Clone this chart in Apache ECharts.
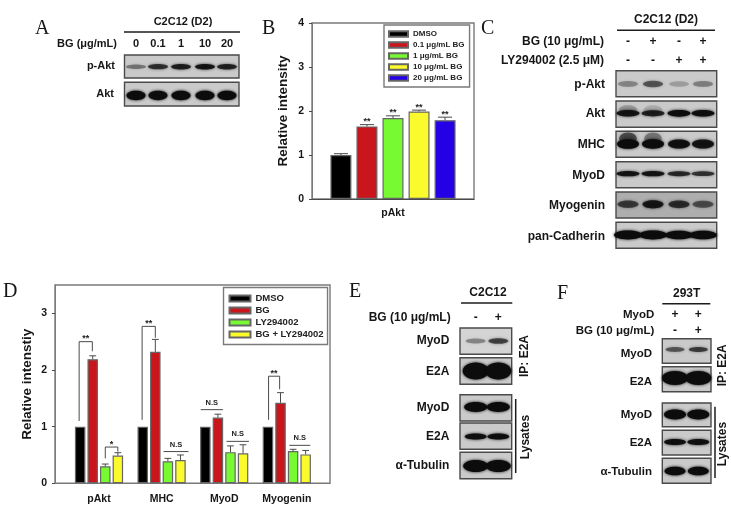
<!DOCTYPE html>
<html><head><meta charset="utf-8">
<style>html,body{margin:0;padding:0;background:#fff}#c{width:731px;height:505px}</style>
<script src="https://cdn.jsdelivr.net/npm/echarts@6/dist/echarts.min.js"></script>
</head><body><div id="c"></div>
<script>
// ---------- Chart B data ----------
const bCategories = ['pAkt'];
const bNames = ['DMSO','0.1 μg/mL BG','1 μg/mL BG','10 μg/mL BG','20 μg/mL BG'];
const bValues = [1.0,1.65,1.84,1.99,1.79];
const bErrors = [0.03,0.04,0.05,0.03,0.07];
const bStars = ['','**','**','**','**'];
const bColors = ['#000000','#c8161c','#78fa32','#fafa2d','#2300e6'];
// ---------- Chart D data ----------
const dCategories = ['pAkt','MHC','MyoD','Myogenin'];
const dNames = ['DMSO','BG','LY294002','BG + LY294002'];
const dDMSO = [1,1,1,1];
const dBG = [2.19,2.32,1.16,1.42];
const dLY = [0.30,0.39,0.55,0.57];
const dBoth = [0.49,0.41,0.53,0.51];
const dDMSOErr = [0,0,0,0];
const dBGErr = [0.06,0.22,0.06,0.18];
const dLYErr = [0.04,0.05,0.11,0.03];
const dBothErr = [0.05,0.09,0.15,0.07];
const dColors = ['#000000','#c8161c','#78fa32','#fafa2d'];
const dTicks = [0,1,2,3];
// significance: category, slot from, slot to, left foot, top, right foot, label
const dBrackets = [
  [0,-0.08,0.97,1.1,2.5,2.33,'**'],
  [0,2.0,3.0,0.44,0.64,0.56,'*'],
  [1,-0.05,1.0,1.12,2.77,2.57,'**'],
  [3,0.05,0.93,1.12,1.89,1.66,'**']
];
const dLines = [
  [1,1.65,3.64,0.56,'N.S'],
  [2,-0.37,1.4,1.3,'N.S'],
  [2,1.68,3.47,0.74,'N.S'],
  [3,1.7,3.37,0.67,'N.S']
];
// ---------- Blot band darkness (0..1) ----------
const aPAkt=[0.38,0.68,0.78,0.85,0.75], aAkt=[0.95,0.92,0.95,0.95,0.95];
const cPAkt=[0.3,0.5,0.2,0.32], cAkt=[0.85,0.78,0.95,0.92], cMHC=[1,0.95,0.88,0.85],
      cMyoD=[0.85,0.85,0.72,0.66], cMyog=[0.6,0.82,0.68,0.5], cCad=[1,1,0.97,0.97];
const ePMyoD=[0.32,0.6], ePE2A=[1,1], eLMyoD=[0.98,0.98], eLE2A=[0.92,0.9], eTub=[1,1];
const fPMyoD=[0.5,0.62], fPE2A=[1,1], fLMyoD=[0.98,0.95], fLE2A=[0.9,0.88], fTub=[0.98,0.98];

const SANS='"Liberation Sans",Arial,sans-serif', SERIF='"Liberation Serif",serif';
const g=[];
function txt(s,x,y,o){o=o||{};g.push({type:'text',x:x,y:y,rotation:o.rot||0,z:10,silent:true,style:{text:s,x:0,y:0,
  font:(o.serif?'normal ':'bold ')+(o.size||12)+'px '+(o.serif?SERIF:SANS),
  fill:o.fill||'#161616',align:o.align||'right',verticalAlign:o.va||'middle'}});}
function rule(x1,y1,x2,y2,w){g.push({type:'line',z:10,silent:true,shape:{x1,y1,x2,y2},style:{stroke:'#1c1c1c',lineWidth:w||1.5}});}
function blot(x0,y0,x1,y1,xs,levels,by,rx,ry,opt){opt=opt||{};
  g.push({type:'rect',z:5,silent:true,shape:{x:x0,y:y0,width:x1-x0,height:y1-y0},style:{fill:opt.bg||'#cacaca',stroke:'#4a4a4a',lineWidth:1.4}});
  levels.forEach((l,i)=>{
    const a=Math.min(1,l*1.05), c='rgba(12,12,12,'+a+')';
    const h=ry*(0.6+0.4*l);
    if(opt.smear&&opt.smear[i]>0){g.push({type:'ellipse',z:6,silent:true,shape:{cx:xs[i],cy:by-ry*1.1,rx:rx*0.8,ry:ry*1.3},
      style:{fill:'rgba(40,40,40,'+opt.smear[i]+')',shadowBlur:4,shadowColor:'rgba(40,40,40,'+opt.smear[i]+')'}});}
    g.push({type:'ellipse',z:7,silent:true,shape:{cx:xs[i],cy:by,rx:rx,ry:h},style:{fill:c,shadowBlur:3,shadowColor:c}});
  });}

// Panel letters
txt('A',35,19,{serif:1,size:20,align:'left',va:'alphabetic'});
txt('B',262,19,{serif:1,size:20,align:'left',va:'alphabetic'});
txt('C',481,19,{serif:1,size:20,align:'left',va:'alphabetic'});
txt('D',3,282,{serif:1,size:20,align:'left',va:'alphabetic'});
txt('E',349,282,{serif:1,size:20,align:'left',va:'alphabetic'});
txt('F',557,284,{serif:1,size:20,align:'left',va:'alphabetic'});

// Panel A
txt('C2C12 (D2)',183,22,{align:'center',size:11});rule(124,32,240,32);
txt('BG (μg/mL)',117,44,{size:11});
const aX=[136,158,181,205,227];
['0','0.1','1','10','20'].forEach((s,i)=>txt(s,aX[i],44,{align:'center',size:11}));
blot(124.5,55,239,78,aX,aPAkt,66.7,10,3);
blot(124.5,82.3,239,106,aX,aAkt,95.5,9.5,4.8);
txt('p-Akt',115,66,{size:11});txt('Akt',114,94,{size:11});

// Panel C
const cX=[628,653,679,703];
txt('C2C12 (D2)',666,20,{align:'center'});rule(617,30.3,715,30.3);
txt('BG (10 μg/mL)',604,42);txt('LY294002 (2.5 μM)',604,61);
['-','+','-','+'].forEach((s,i)=>txt(s,cX[i],42,{align:'center'}));
['-','-','+','+'].forEach((s,i)=>txt(s,cX[i],61,{align:'center'}));
blot(616,70.7,716.7,96.7,cX,cPAkt,84,10,4);
blot(616,101,716.7,127.3,cX,cAkt,113.3,11.5,3.4,{smear:[0.28,0.16,0,0]});
blot(616,131.3,716.7,157.3,cX,cMHC,144,11,4.8,{smear:[0.7,0.45,0,0]});
blot(616,161.7,716.7,187.7,cX,cMyoD,173.7,11.5,2.8);
blot(616,192,716.7,218,cX,cMyog,204.3,10.5,4.4,{bg:'#aeaeae'});
blot(616,222.3,716.7,248.3,cX,cCad,235,14,4.4);
[['p-Akt',85],['Akt',113.7],['MHC',145],['MyoD',175.7],['Myogenin',206],['pan-Cadherin',236.7]].forEach(r=>txt(r[0],605,r[1]));

// Panel E
const eX=[475.7,498.3];
txt('C2C12',488,292.3,{align:'center'});rule(461,303,512.3,303);
txt('BG (10 μg/mL)',450.7,317.3);
['-','+'].forEach((s,i)=>txt(s,eX[i],317.3,{align:'center'}));
blot(460,328,511.7,354.3,eX,ePMyoD,341,10,3.4,{bg:'#d4d4d4'});
blot(460,357.7,511.7,384.3,eX,ePE2A,371,13,8.5);
blot(460,394.7,511.7,421,eX,eLMyoD,407,11.5,5);
blot(460,423,511.7,449.3,eX,eLE2A,436.5,11,3.2);
blot(460,452.3,511.7,478.7,eX,eTub,466,12.5,6);
[['MyoD',341],['E2A',371.7],['MyoD',407.7],['E2A',436.7],['α-Tubulin',465.3]].forEach(r=>txt(r[0],449.3,r[1]));
txt('IP: E2A',525,356,{align:'center',rot:Math.PI/2});
txt('Lysates',525.7,437,{align:'center',rot:Math.PI/2});
rule(515.7,399,515.7,473);

// Panel F
const fX=[675,698.3];
txt('293T',686.7,293.3,{align:'center'});rule(662.3,303.7,710.3,303.7);
txt('MyoD',654.3,315,{size:11.5});txt('BG (10 μg/mL)',654.3,330.7,{size:11.5});
['+','+'].forEach((s,i)=>txt(s,fX[i],315,{align:'center'}));
['-','+'].forEach((s,i)=>txt(s,fX[i],330.7,{align:'center'}));
blot(662.3,338.7,711,363.3,fX,fPMyoD,349.5,9.5,3);
blot(662.3,366.7,711,391.7,fX,fPE2A,378,13,7);
blot(662.3,403,711,426.7,fX,fLMyoD,414.5,11,5);
blot(662.3,430.3,711,455,fX,fLE2A,442,11,3.2);
blot(662.3,458.3,711,483.3,fX,fTub,471,10.5,4.4);
[['MyoD',353.7],['E2A',381.7],['MyoD',415.3],['E2A',443.3],['α-Tubulin',472]].forEach(r=>txt(r[0],652,r[1],{size:11.5}));
txt('IP: E2A',723,365.3,{align:'center',rot:Math.PI/2});
txt('Lysates',723,444,{align:'center',rot:Math.PI/2});
rule(715,406.7,715,478);

// ---------- charts ----------
const axisTxt={fontFamily:SANS,fontWeight:'bold',fontSize:10.5,color:'#161616'};
const frame='#7a7a7a', ink='#4a4a4a';
const bStep=26, dStep=12.57;

function errorSeries(name,xi,yi,rows,step,mid,stars){
  return {type:'custom',name:name,xAxisIndex:xi,yAxisIndex:yi,clip:false,z:4,silent:true,
    data:rows,encode:{x:0,y:2},
    renderItem:function(p,api){
      const c=api.value(0),s=api.value(1),v=api.value(2),e=api.value(3);
      const x=api.coord([c,0])[0]+(s-mid)*step;
      const y0=api.coord([c,v])[1],y1=api.coord([c,v+e])[1];
      const kids=[];
      if(e>0){
        kids.push({type:'line',shape:{x1:x,y1:y0,x2:x,y2:y1},style:{stroke:ink,lineWidth:1}});
        kids.push({type:'line',shape:{x1:x-step*0.27,y1:y1,x2:x+step*0.27,y2:y1},style:{stroke:ink,lineWidth:1}});
      }
      if(stars&&stars[p.dataIndex]){
        kids.push({type:'text',style:{text:stars[p.dataIndex],x:x,y:y1-3,align:'center',verticalAlign:'middle',
          font:'bold 9px '+SANS,fill:'#222'}});
      }
      return {type:'group',children:kids};
    }};
}

const series=[];
bNames.forEach((n,i)=>{
  series.push({type:'bar',name:n,xAxisIndex:0,yAxisIndex:0,barWidth:21,barGap:'24%',
    data:[bValues[i]],itemStyle:{color:bColors[i],borderColor:'#666',borderWidth:1.2}});
});
series.push(errorSeries('bErr',0,0,bValues.map((v,i)=>[0,i,v,bErrors[i]]),bStep,2,bStars));

const dRows=[dDMSO,dBG,dLY,dBoth], dErrs=[dDMSOErr,dBGErr,dLYErr,dBothErr];
dNames.forEach((n,i)=>{
  series.push({type:'bar',name:n,xAxisIndex:2,yAxisIndex:2,barWidth:10.5,barGap:'19.7%',
    data:dRows[i],itemStyle:{color:dColors[i],borderColor:'#666',borderWidth:1.2}});
});
const dErrRows=[];
dRows.forEach((r,s)=>r.forEach((v,c)=>dErrRows.push([c,s,v,dErrs[s][c]])));
series.push(errorSeries('dErr',2,2,dErrRows,dStep,1.5));

series.push({type:'custom',name:'dBrackets',xAxisIndex:2,yAxisIndex:2,clip:false,z:4,silent:true,
  data:dBrackets.map(a=>[a[0],a[4]]),encode:{x:0,y:1},
  renderItem:function(p,api){
    const a=dBrackets[p.dataIndex];
    const cx=api.coord([a[0],0])[0];
    const xa=cx+(a[1]-1.5)*dStep,xb=cx+(a[2]-1.5)*dStep;
    const Y=v=>api.coord([a[0],v])[1];
    return {type:'group',children:[
      {type:'polyline',shape:{points:[[xa,Y(a[3])],[xa,Y(a[4])],[xb,Y(a[4])],[xb,Y(a[5])]]},style:{stroke:ink,lineWidth:1,fill:null}},
      {type:'text',style:{text:a[6],x:(xa+xb)/2,y:Y(a[4])-3,align:'center',verticalAlign:'middle',font:'bold 9px '+SANS,fill:'#222'}}
    ]};
  }});
series.push({type:'custom',name:'dLines',xAxisIndex:2,yAxisIndex:2,clip:false,z:4,silent:true,
  data:dLines.map(a=>[a[0],a[3]]),encode:{x:0,y:1},
  renderItem:function(p,api){
    const a=dLines[p.dataIndex];
    const cx=api.coord([a[0],0])[0];
    const xa=cx+(a[1]-1.5)*dStep,xb=cx+(a[2]-1.5)*dStep,y=api.coord([a[0],a[3]])[1];
    return {type:'group',children:[
      {type:'line',shape:{x1:xa,y1:y,x2:xb,y2:y},style:{stroke:ink,lineWidth:1}},
      {type:'text',style:{text:a[4],x:(xa+xb)/2,y:y-7,align:'center',verticalAlign:'middle',font:'bold 7.5px '+SANS,fill:'#222'}}
    ]};
  }});

const chart=echarts.init(document.getElementById('c'),null,{renderer:'canvas'});
chart.setOption({
  animation:false,backgroundColor:'#fff',
  grid:[
    {left:312,top:23,width:162,height:176,show:true,borderColor:frame,borderWidth:1.4,backgroundColor:'transparent'},
    {left:55,top:285,width:275,height:198.3,show:true,borderColor:frame,borderWidth:1.4,backgroundColor:'transparent'},
    {left:67.7,top:285,width:250.4,height:198.3}
  ],
  xAxis:[
    {gridIndex:0,type:'category',data:bCategories,axisLine:{lineStyle:{color:ink,width:1}},
      axisTick:{alignWithLabel:true,length:3,lineStyle:{color:ink}},axisLabel:Object.assign({},axisTxt,{margin:9,fontSize:10.5})},
    {gridIndex:1,type:'value',min:0,max:1,show:false},
    {gridIndex:2,type:'category',data:dCategories,axisLine:{show:false},axisTick:{show:false},
      axisLabel:Object.assign({},axisTxt,{margin:10,fontSize:10.5,interval:0})}
  ],
  yAxis:[
    {gridIndex:0,type:'value',min:0,max:4,interval:1,splitLine:{show:false},
      axisLine:{show:true,lineStyle:{color:frame,width:1}},axisTick:{show:true,length:3,lineStyle:{color:ink}},
      axisLabel:Object.assign({},axisTxt,{margin:8}),
      name:'Relative intensity',nameLocation:'middle',nameGap:22,nameRotate:90,
      nameTextStyle:{fontFamily:SANS,fontWeight:'bold',fontSize:13.5,color:'#161616'}},
    {gridIndex:1,type:'value',min:0,max:3.5,interval:1,splitLine:{show:false},
      axisLine:{show:true,lineStyle:{color:frame,width:1}},
      axisTick:{show:true,length:3,lineStyle:{color:ink},customValues:dTicks},
      axisLabel:Object.assign({},axisTxt,{margin:8,customValues:dTicks}),
      name:'Relative intenstiy',nameLocation:'middle',nameGap:21,nameRotate:90,
      nameTextStyle:{fontFamily:SANS,fontWeight:'bold',fontSize:13.5,color:'#161616'}},
    {gridIndex:2,type:'value',min:0,max:3.5,interval:1,show:false,splitLine:{show:false}}
  ],
  legend:[
    {data:bNames,orient:'vertical',left:384,top:25,width:87,height:64,padding:[5,5,5,4],
      itemWidth:19,itemHeight:5.5,itemGap:3,icon:'rect',selectedMode:false,
      backgroundColor:'#fff',borderColor:frame,borderWidth:1.4,z:6,
      textStyle:{fontFamily:SANS,fontWeight:'bold',fontSize:8,color:'#222',lineHeight:8,padding:[0,0,0,0]}},
    {data:dNames,orient:'vertical',left:223.5,top:287.5,padding:[6,4,5,5],
      itemWidth:21,itemHeight:6,itemGap:2,icon:'rect',selectedMode:false,
      backgroundColor:'#fff',borderColor:frame,borderWidth:1.4,z:6,
      textStyle:{fontFamily:SANS,fontWeight:'bold',fontSize:9.5,color:'#222',lineHeight:7}}
  ],
  series:series,
  graphic:{elements:g}
});
</script></body></html>
